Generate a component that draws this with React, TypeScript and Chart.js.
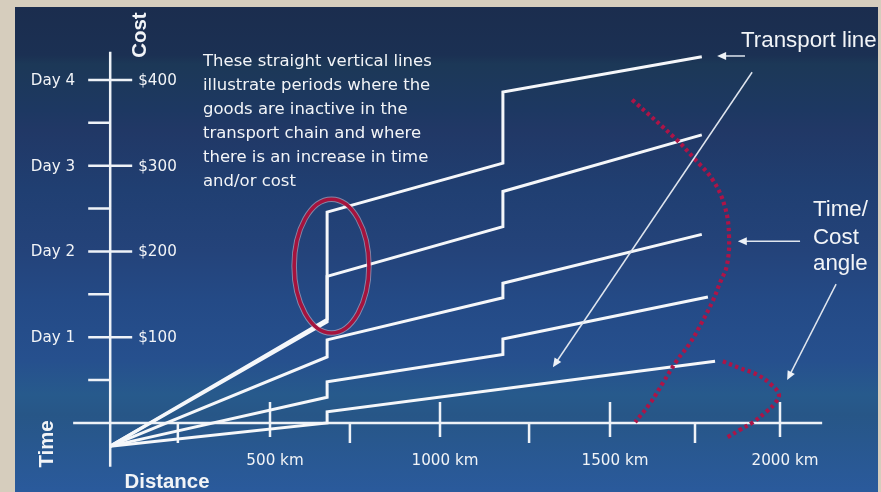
import React, { useEffect, useRef } from "react";
import { Chart, registerables } from "chart.js";

Chart.register(...registerables);

const W = 881;
const H = 492;

// ---- data (distance in km, cost in $) ----
const stepKm = [30, 668, 668, 1185, 1185, 1770];
const line1Cost = [-27, 121, 246, 303, 386, 427];
const line2Cost = [-27, 118, 171, 229, 270, 336];
const line3Cost = [-27, 77, 97, 146, 163, 220];
const line4Km = [30, 668, 668, 1185, 1185, 1788];
const line4Cost = [-27, 30, 48, 80, 98, 147];
const line5Km = [30, 668, 668, 1809];
const line5Cost = [-27, 0, 13, 72];

const arcKm = [1565, 1697, 1744, 1803, 1838, 1850, 1844, 1824, 1803, 1771, 1735, 1697, 1656, 1618, 1574];
const arcCost = [377, 330, 310, 283, 252, 219, 184, 164, 143, 118, 93, 73, 47, 23, 1];
const hookKm = [1832, 1882, 1935, 1976, 1997, 1985, 1959, 1921, 1882, 1844];
const hookCost = [72, 64, 56, 44, 33, 23, 13, 1, -8, -17];

const xMajorTicks = [500, 1000, 1500, 2000];
const xTickLabels = ["500 km", "1000 km", "1500 km", "2000 km"];
const xMinorTicks = [229, 735, 1262, 1750];
const yMajorTicks = [100, 200, 300, 400];
const dayLabels = ["Day 1", "Day 2", "Day 3", "Day 4"];
const costLabels = ["$100", "$200", "$300", "$400"];
const yMinorTicks = [50, 150, 250, 350];

const noteLines = [
  "These straight vertical lines",
  "illustrate periods where the",
  "goods are inactive in the",
  "transport chain and where",
  "there is an increase in time",
  "and/or cost",
];

// ellipse: centre km, centre $, radius km, radius $
const idleEllipse = [681, 183, 110, 78];
// arrows: from km, from $, to km, to $
const arrowTransport = [1897, 428, 1815, 428];
const arrowTransportDiag = [1918, 409, 1332, 65];
const arrowAngle = [2059, 212, 1876, 212];
const arrowAngleDiag = [2165, 162, 2021, 50];

// scale bounds
const X_MIN = -294.12;
const X_MAX = 2297.06;
const Y_MIN = -80.47;
const Y_MAX = 493.29;
const AXIS_KM = 30;

const pts = (xs: number[], ys: number[]) => xs.map((x, i) => ({ x, y: ys[i] }));

function fitSize(ctx: CanvasRenderingContext2D, text: string, family: string, weight: string, width: number) {
  ctx.font = `${weight} 20px ${family}`;
  const w = ctx.measureText(text).width;
  return (20 * width) / w;
}

const bgPlugin = {
  id: "bg",
  beforeDraw(chart: any) {
    const ctx = chart.ctx as CanvasRenderingContext2D;
    ctx.save();
    ctx.fillStyle = "#d6cdbd";
    ctx.fillRect(0, 0, W, H);
    const g = ctx.createLinearGradient(0, 7, 0, H);
    const stops: [number, string][] = [
      [7, "#1b2d4e"],
      [55, "#1b3053"],
      [64, "#1c3857"],
      [110, "#1d3862"],
      [130, "#213866"],
      [190, "#203f72"],
      [250, "#24437a"],
      [300, "#244a86"],
      [360, "#26508e"],
      [395, "#275a8c"],
      [415, "#275687"],
      [492, "#2a5a9c"],
    ];
    stops.forEach(([y, c]) => g.addColorStop((y - 7) / (H - 7), c));
    ctx.fillStyle = g;
    ctx.fillRect(15, 7, 863, H - 7);
    ctx.restore();
  },
  beforeDatasetsDraw(chart: any) {
    const ctx = chart.ctx as CanvasRenderingContext2D;
    const X = (v: number) => chart.scales.x.getPixelForValue(v);
    const Y = (v: number) => chart.scales.y.getPixelForValue(v);
    const ax = X(AXIS_KM);
    const ay = Y(0);
    ctx.save();
    ctx.strokeStyle = "#eef2f7";
    ctx.lineWidth = 2.5;
    ctx.beginPath();
    ctx.moveTo(ax, Y(433));
    ctx.lineTo(ax, Y(-51));
    ctx.moveTo(X(-79), ay);
    ctx.lineTo(X(2124), ay);
    yMajorTicks.forEach((t) => {
      ctx.moveTo(ax - 22, Y(t));
      ctx.lineTo(ax + 22, Y(t));
    });
    yMinorTicks.forEach((t) => {
      ctx.moveTo(ax - 22, Y(t));
      ctx.lineTo(ax, Y(t));
    });
    xMajorTicks.forEach((t) => {
      ctx.moveTo(X(t), ay - 21);
      ctx.lineTo(X(t), ay + 14);
    });
    xMinorTicks.forEach((t) => {
      ctx.moveTo(X(t), ay);
      ctx.lineTo(X(t), ay + 20);
    });
    ctx.stroke();

    // tick labels
    const tickFam = "'DejaVu Sans'";
    const ts = fitSize(ctx, "1500 km", tickFam, "normal", 67);
    ctx.font = `normal ${ts}px ${tickFam}`;
    ctx.fillStyle = "#f2f4f7";
    ctx.textBaseline = "middle";
    ctx.textAlign = "right";
    yMajorTicks.forEach((t, i) => ctx.fillText(dayLabels[i], ax - 35, Y(t) + 1));
    ctx.textAlign = "left";
    yMajorTicks.forEach((t, i) => ctx.fillText(costLabels[i], ax + 28, Y(t) + 1));
    ctx.textAlign = "center";
    xMajorTicks.forEach((t, i) => ctx.fillText(xTickLabels[i], X(t) + 5, ay + 38));

    // note text
    const ns = fitSize(ctx, noteLines[0], tickFam, "normal", 229);
    ctx.font = `normal ${ns}px ${tickFam}`;
    ctx.textAlign = "left";
    noteLines.forEach((l, i) => ctx.fillText(l, 203, 62 + i * 24));

    // axis titles
    const fam = "'Liberation Sans', Arial, sans-serif";
    const bs = fitSize(ctx, "Distance", fam, "bold", 85);
    ctx.font = `bold ${bs}px ${fam}`;
    ctx.textAlign = "center";
    ctx.fillText("Distance", 167, 482);
    ctx.save();
    ctx.translate(140, 35);
    ctx.rotate(-Math.PI / 2);
    ctx.fillText("Cost", 0, 0);
    ctx.restore();
    ctx.save();
    ctx.translate(47, 444);
    ctx.rotate(-Math.PI / 2);
    ctx.fillText("Time", 0, 0);
    ctx.restore();

    // side labels
    const ls = fitSize(ctx, "Time/", fam, "normal", 55);
    ctx.font = `normal ${ls}px ${fam}`;
    ctx.textAlign = "left";
    ctx.fillText("Transport line", 741, 41);
    ctx.fillText("Time/", 813, 210);
    ctx.fillText("Cost", 813, 238);
    ctx.fillText("angle", 813, 264);
    ctx.restore();
  },
  afterDatasetsDraw(chart: any) {
    const ctx = chart.ctx as CanvasRenderingContext2D;
    const X = (v: number) => chart.scales.x.getPixelForValue(v);
    const Y = (v: number) => chart.scales.y.getPixelForValue(v);
    ctx.save();
    // ellipse
    const [ek, ec, rk, rc] = idleEllipse;
    const cx = X(ek);
    const cy = Y(ec);
    const rx = X(ek + rk) - cx;
    const ry = cy - Y(ec + rc);
    ctx.beginPath();
    ctx.ellipse(cx, cy, rx, ry, 0, 0, Math.PI * 2);
    ctx.strokeStyle = "rgba(230,205,215,0.5)";
    ctx.lineWidth = 5.5;
    ctx.stroke();
    ctx.strokeStyle = "#a5133d";
    ctx.lineWidth = 3.6;
    ctx.stroke();

    // arrows
    const arrow = (a: number[]) => {
      const x1 = X(a[0]), y1 = Y(a[1]), x2 = X(a[2]), y2 = Y(a[3]);
      const ang = Math.atan2(y2 - y1, x2 - x1);
      const hl = 9, hw = 4;
      ctx.strokeStyle = "#dfe5ee";
      ctx.fillStyle = "#eef2f7";
      ctx.lineWidth = 1.5;
      ctx.beginPath();
      ctx.moveTo(x1, y1);
      ctx.lineTo(x2 - Math.cos(ang) * hl * 0.8, y2 - Math.sin(ang) * hl * 0.8);
      ctx.stroke();
      ctx.beginPath();
      ctx.moveTo(x2, y2);
      ctx.lineTo(x2 - Math.cos(ang) * hl - Math.sin(ang) * hw, y2 - Math.sin(ang) * hl + Math.cos(ang) * hw);
      ctx.lineTo(x2 - Math.cos(ang) * hl + Math.sin(ang) * hw, y2 - Math.sin(ang) * hl - Math.cos(ang) * hw);
      ctx.closePath();
      ctx.fill();
    };
    arrow(arrowTransport);
    arrow(arrowTransportDiag);
    arrow(arrowAngle);
    arrow(arrowAngleDiag);
    ctx.restore();
  },
};

export default function App() {
  const ref = useRef<HTMLCanvasElement | null>(null);
  useEffect(() => {
    if (!ref.current) return;
    const white = "#f5f7fa";
    const lineDs = (data: any[]) => ({
      data,
      showLine: true,
      borderColor: white,
      borderWidth: 3,
      pointRadius: 0,
      tension: 0,
      fill: false,
      borderJoinStyle: "miter" as const,
    });
    const dotDs = (data: any[]) => ({
      data,
      showLine: true,
      borderColor: "#ad1447",
      borderWidth: 4.2,
      borderDash: [3.4, 3.2],
      borderCapStyle: "butt" as const,
      pointRadius: 0,
      tension: 0.4,
      fill: false,
    });
    const chart = new Chart(ref.current, {
      type: "scatter",
      data: {
        datasets: [
          dotDs(pts(arcKm, arcCost)),
          dotDs(pts(hookKm, hookCost)),
          lineDs(pts(stepKm, line1Cost)),
          lineDs(pts(stepKm, line2Cost)),
          lineDs(pts(stepKm, line3Cost)),
          lineDs(pts(line4Km, line4Cost)),
          lineDs(pts(line5Km, line5Cost)),
        ],
      },
      options: {
        animation: false,
        responsive: false,
        devicePixelRatio: 1,
        layout: { padding: 0 },
        scales: {
          x: { type: "linear", min: X_MIN, max: X_MAX, display: false },
          y: { type: "linear", min: Y_MIN, max: Y_MAX, display: false },
        },
        plugins: { legend: { display: false }, tooltip: { enabled: false } },
      },
      plugins: [bgPlugin],
    });
    return () => chart.destroy();
  }, []);
  return (
    <div style={{ position: "fixed", left: 0, top: 0, width: W, height: H }}>
      <canvas ref={ref} width={W} height={H} style={{ display: "block", width: W, height: H }} />
    </div>
  );
}
